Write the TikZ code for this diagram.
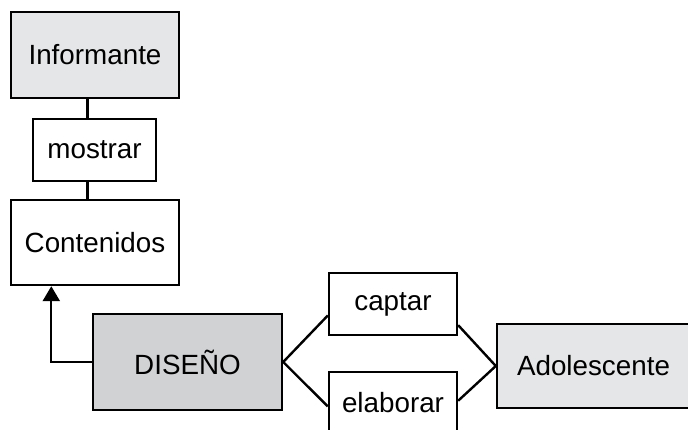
\documentclass[tikz,border=0pt]{standalone}
\usepackage{fontspec}
\setmainfont{Liberation Sans}
\usetikzlibrary{arrows.meta}
\definecolor{grisclaro}{HTML}{E5E6E7}
\definecolor{grisoscuro}{HTML}{D1D2D4}

\begin{document}
\begin{tikzpicture}[
    x=1pt, y=1pt,
    box/.style={draw, rectangle, line width=2.4pt, inner sep=0pt,
        font=\fontsize{27.8}{33}\selectfont},
    arrow/.style={-{Triangle[length=15pt,width=17pt]}, line width=2.4pt},
    line/.style={line width=2.4pt}
]
    \useasboundingbox (0,0) rectangle (688,429);
    \clip (0,0) rectangle (688,429);

    % columna izquierda
    \node[box, fill=grisclaro, minimum width=168, minimum height=86] (informante) at (95,374) {Informante};
    \node[box, minimum width=123, minimum height=62] (mostrar) at (94.5,279) {mostrar};
    \node[box, minimum width=168, minimum height=85] (contenidos) at (95,186.5) {Contenidos};

    % centro
    \node[box, fill=grisoscuro, minimum width=189, minimum height=96] (diseno) at (187.5,67) {DISEÑO};

    % relaciones
    \node[box, minimum width=128, minimum height=62] (captar) at (393,125) {captar};
    \node[box, minimum width=128, minimum height=62] (elaborar) at (393,26) {elaborar};

    % derecha
    \node[box, fill=grisclaro, minimum width=193, minimum height=84] (adolescente) at (593.5,63) {Adolescente};

    % conexiones
    \draw[line] (mostrar.102) -- (mostrar.102 |- informante.south);
    \draw[line] (mostrar.-102) -- (mostrar.-102 |- contenidos.north);
    \draw[arrow] (diseno.west) -| (contenidos.225);
    \draw[line] (diseno.east) -- (captar.190);
    \draw[line] (diseno.east) -- (elaborar.183);
    \draw[line] (captar.-18) -- (adolescente.west);
    \draw[line] (elaborar.2) -- (adolescente.west);

\end{tikzpicture}
\end{document}
